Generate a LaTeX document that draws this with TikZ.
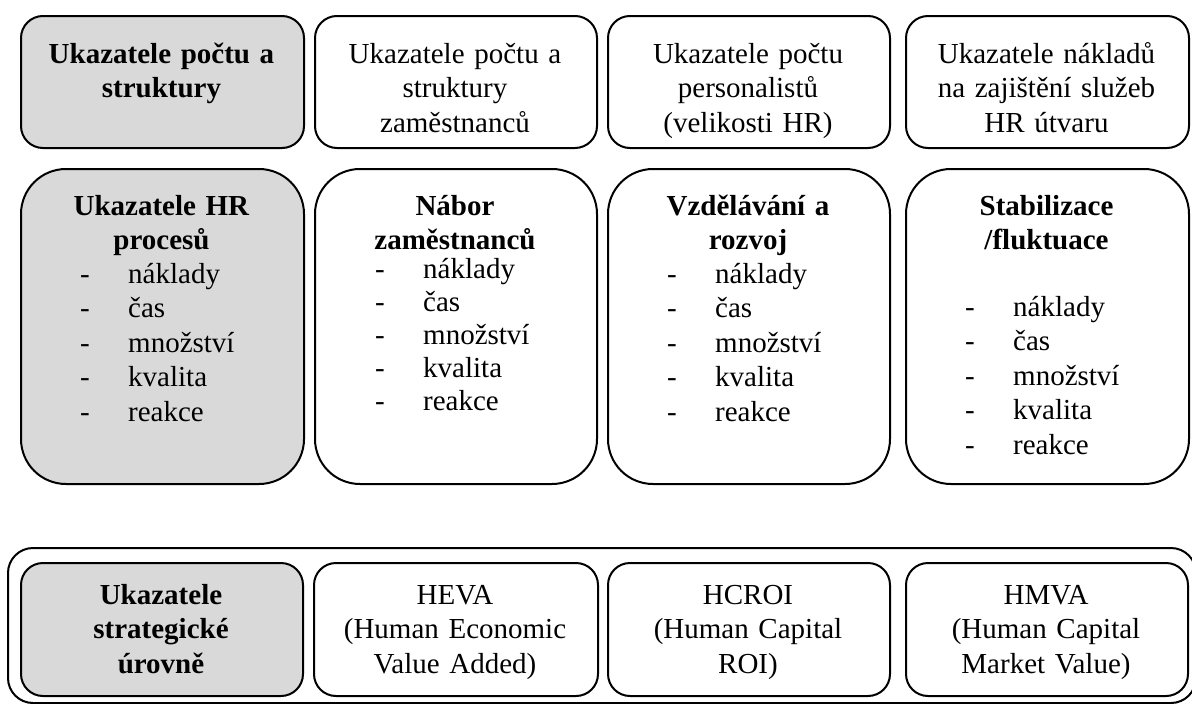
\documentclass[tikz,border=0pt]{standalone}
\usepackage{fontspec}
\setmainfont{Liberation Serif}
\definecolor{cardgray}{RGB}{217,217,217}
\newcommand\dashitem{\makebox[48pt][l]{-}}
\begin{document}
\begin{tikzpicture}[x=1pt,y=-1pt,
  card/.style={draw=black,line width=2pt,rounded corners=22pt,inner sep=0pt,anchor=north west},
  tallcard/.style={card,rounded corners=45pt},
  graycard/.style={fill=cardgray},
  head/.style={inner sep=0pt,anchor=base,text width=272pt,align=center,
    font=\fontsize{29}{34.8}\selectfont},
  items/.style={inner sep=0pt,anchor=base west,text width=210pt,align=left,
    font=\fontsize{29}{34.6}\selectfont},
  tightitems/.style={items,font=\fontsize{29}{33}\selectfont}]
\useasboundingbox (0,0) rectangle (1192,704);

% top row: headcount and structure indicators
\node[card,graycard,minimum width=283pt,minimum height=132pt] (t1) at (20,15) {};
\node[card,minimum width=282pt,minimum height=132pt] (t2) at (314,15) {};
\node[card,minimum width=282pt,minimum height=132pt] (t3) at (607,15) {};
\node[card,minimum width=283pt,minimum height=132pt] (t4) at (905,15) {};
\node[head] (t1h) at (161.5,63) {\textbf{Ukazatele počtu a}\\\textbf{struktury}};
\node[head] (t2h) at (455,63) {Ukazatele počtu a\\struktury\\zaměstnanců};
\node[head] (t3h) at (748,63) {Ukazatele počtu\\personalistů\\(velikosti HR)};
\node[head] (t4h) at (1046.5,63) {Ukazatele nákladů\\na zajištění služeb\\HR útvaru};

% middle row: HR process indicators
\node[tallcard,graycard,minimum width=283pt,minimum height=315pt] (m1) at (20,168) {};
\node[tallcard,minimum width=282pt,minimum height=315pt] (m2) at (314,168) {};
\node[tallcard,minimum width=282pt,minimum height=315pt] (m3) at (607,168) {};
\node[tallcard,minimum width=283pt,minimum height=315pt] (m4) at (905,168) {};
\node[head] (m1h) at (161.5,215) {\textbf{Ukazatele HR}\\\textbf{procesů}};
\node[head] (m2h) at (455,215) {\textbf{Nábor}\\\textbf{zaměstnanců}};
\node[head] (m3h) at (748,215) {\textbf{Vzdělávání a}\\\textbf{rozvoj}};
\node[head] (m4h) at (1046.5,215) {\textbf{Stabilizace}\\\textbf{/fluktuace}};
\node[items] (m1l) at (80,283)
  {\dashitem náklady\\\dashitem čas\\\dashitem množství\\\dashitem kvalita\\\dashitem reakce};
\node[tightitems] (m2l) at (375,278)
  {\dashitem náklady\\\dashitem čas\\\dashitem množství\\\dashitem kvalita\\\dashitem reakce};
\node[items] (m3l) at (667,283)
  {\dashitem náklady\\\dashitem čas\\\dashitem množství\\\dashitem kvalita\\\dashitem reakce};
\node[items] (m4l) at (965,316)
  {\dashitem náklady\\\dashitem čas\\\dashitem množství\\\dashitem kvalita\\\dashitem reakce};

% bottom row: strategic indicators inside a common frame
\node[card,rounded corners=25pt,minimum width=1188pt,minimum height=155pt] (outer) at (7,547) {};
\node[card,graycard,minimum width=282pt,minimum height=133pt] (b1) at (20,562) {};
\node[card,minimum width=284pt,minimum height=133pt] (b2) at (313,562) {};
\node[card,minimum width=282pt,minimum height=133pt] (b3) at (607,562) {};
\node[card,minimum width=282pt,minimum height=133pt] (b4) at (905,562) {};
\node[head] (b1h) at (161,604) {\textbf{Ukazatele}\\\textbf{strategické}\\\textbf{úrovně}};
\node[head] (b2h) at (455,604) {HEVA\\(Human Economic\\Value Added)};
\node[head] (b3h) at (748,604) {HCROI\\(Human Capital\\ROI)};
\node[head] (b4h) at (1046,604) {HMVA\\(Human Capital\\Market Value)};
\end{tikzpicture}
\end{document}
